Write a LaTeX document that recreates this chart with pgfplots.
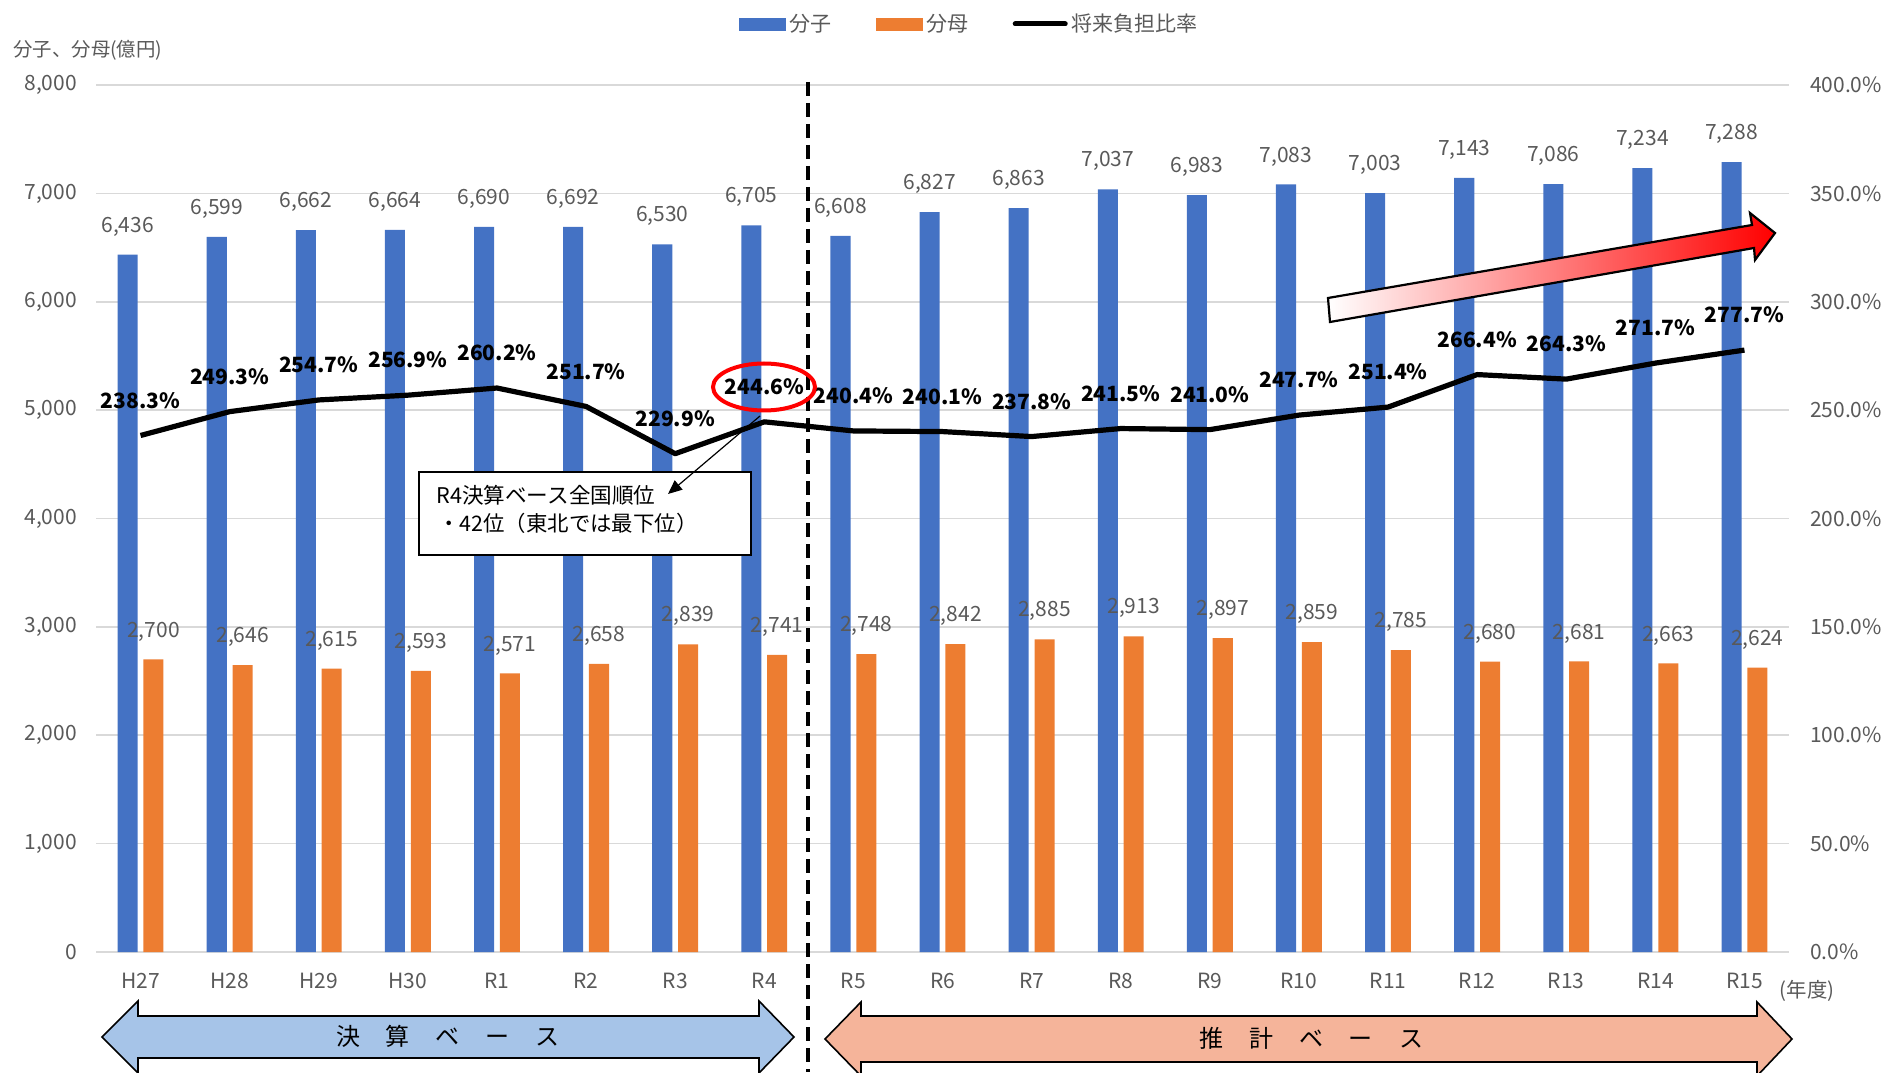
\documentclass[border=0pt]{standalone}
\usepackage{fontspec}
\setmainfont{Noto Sans CJK JP}
\usepackage{pgfplots}
\pgfplotsset{compat=1.18}
\usetikzlibrary{arrows.meta}
\definecolor{c1}{HTML}{4472C4}
\definecolor{c2}{HTML}{ED7D31}
\definecolor{gridc}{HTML}{D9D9D9}
\definecolor{txt}{HTML}{595959}
\definecolor{arrb}{HTML}{A6C4E8}
\definecolor{arro}{HTML}{F5B49A}
\newcommand\tf{\fontsize{10.5}{12}\selectfont}
\begin{document}
\begin{tikzpicture}
\path[use as bounding box] (-48pt,-60pt) rectangle (893.5pt,476pt);
\pgfplotsset{
  base/.style={scale only axis, width=846.5pt, height=433.5pt, xmin=-0.5, xmax=18.5,
    axis line style={draw=none}, major tick length=0pt,
    /pgf/number format/assume math mode=true,
    tick label style={font=\tf, text=txt}},
}
\begin{axis}[base, ymin=0, ymax=8000, ytick={0,1000,...,8000},
  ymajorgrids, grid style={gridc, line width=0.8pt},
  xtick={0,...,18},
  xticklabels={H27,H28,H29,H30,R1,R2,R3,R4,R5,R6,R7,R8,R9,R10,R11,R12,R13,R14,R15},
  yticklabel style={xshift=-6pt}, xticklabel style={yshift=-7pt},
  /pgf/number format/1000 sep={,},
  nodes near coords,
  nodes near coords style={font=\tf, text=txt, anchor=center, yshift=14pt}]
\addplot[ybar, bar width=0.225, bar shift=-0.145, fill=c1, draw=none,
  nodes near coords style={xshift=-6.46pt}] coordinates {
(0,6436) (1,6599) (2,6662) (3,6664) (4,6690) (5,6692) (6,6530) (7,6705) (8,6608) (9,6827)
(10,6863) (11,7037) (12,6983) (13,7083) (14,7003) (15,7143) (16,7086) (17,7234) (18,7288)};
\addplot[ybar, bar width=0.225, bar shift=0.145, fill=c2, draw=none,
  nodes near coords style={xshift=6.46pt}] coordinates {
(0,2700) (1,2646) (2,2615) (3,2593) (4,2571) (5,2658) (6,2839) (7,2741) (8,2748) (9,2842)
(10,2885) (11,2913) (12,2897) (13,2859) (14,2785) (15,2680) (16,2681) (17,2663) (18,2624)};
\end{axis}
\begin{axis}[base, ymin=0, ymax=400, ytick={0,50,...,400},
  axis x line=none, axis y line*=right,
  yticklabel={\pgfmathprintnumber[fixed,fixed zerofill,precision=1]{\tick}\%},
  yticklabel style={anchor=west, xshift=7pt},
  legend style={draw=none, fill=none, at={(0.5165,1.092)}, anchor=north, legend columns=3,
    font=\tf, text=txt, /tikz/every even column/.append style={column sep=20pt}, cells={anchor=west}}]
\addlegendimage{legend image code/.code={\fill[c1] (0pt,-3pt) rectangle (23pt,3pt);}}
\addlegendentry{分子}
\addlegendimage{legend image code/.code={\fill[c2] (0pt,-3pt) rectangle (23pt,3pt);}}
\addlegendentry{分母}
\addlegendimage{legend image code/.code={\draw[black, line width=2.5pt, line cap=round] (0pt,0pt) -- (25pt,0pt);}}
\addlegendentry{将来負担比率}
\addplot[black, line width=2.6pt, line join=round, forget plot,
  nodes near coords={\pgfmathprintnumber[fixed,fixed zerofill,precision=1]{\pgfplotspointmeta}\%},
  nodes near coords style={font=\bfseries\tf, text=black, anchor=center, yshift=17.5pt}] coordinates {
(0,238.3) (1,249.3) (2,254.7) (3,256.9) (4,260.2) (5,251.7) (6,229.9) (7,244.6) (8,240.4) (9,240.1)
(10,237.8) (11,241.5) (12,241.0) (13,247.7) (14,251.4) (15,266.4) (16,264.3) (17,271.7) (18,277.7)};
\end{axis}
\begin{scope}[x=0.5pt,y=-0.5pt,shift={(-48pt,476pt)}]
% axis titles
\node[anchor=west, inner sep=0, font=\fontsize{9.7}{11}\selectfont, text=txt] at (13,50) {分子、分母(億円)};
\node[inner sep=0, font=\fontsize{10.2}{11}\selectfont, text=txt] at (1807,991) {(年度)};
% dashed separator
\draw[black, line width=1.6pt, dash pattern=on 7pt off 3.5pt] (808,82) -- (808,1072);
% callout
\draw[black, line width=0.6pt, fill=white] (419,472) rectangle (751,555);
\node[anchor=west, inner sep=0, font=\fontsize{10.8}{12}\selectfont] at (436,495) {R4決算ベース全国順位};
\node[anchor=west, inner sep=0, font=\fontsize{10.7}{12}\selectfont] at (438,523) {・42位（東北では最下位）};
\draw[black, line width=0.6pt, -{Triangle[length=7pt,width=6pt]}] (760,416) -- (668,494);
\draw[red, line width=2pt] (764,387) ellipse [x radius=25.5pt, y radius=11.75pt];
% gradient arrow
\draw[black, line width=1.1pt, line join=miter, left color=white, right color=red]
  (1328,298) -- (1752,225) -- (1750,213) -- (1775,233) -- (1755,260) -- (1754,248) -- (1330,322) -- cycle;
% bottom arrows
\draw[black, line width=0.8pt, fill=arrb]
  (102,1037) -- (138,1001) -- (138,1016) -- (759,1016) -- (759,1001) -- (794,1037)
  -- (759,1073) -- (759,1058) -- (138,1058) -- (138,1073) -- cycle;
\draw[black, line width=0.8pt, fill=arro]
  (825,1039) -- (861,1002) -- (861,1016) -- (1757,1016) -- (1757,1002) -- (1792,1039)
  -- (1757,1076) -- (1757,1062) -- (861,1062) -- (861,1076) -- cycle;
\node[inner sep=0, font=\fontsize{12}{13}\selectfont] at (448,1036) {決\hspace{13pt}算\hspace{13pt}ベ\hspace{13pt}ー\hspace{13pt}ス};
\node[inner sep=0, font=\fontsize{12}{13}\selectfont] at (1311,1038) {推\hspace{13pt}計\hspace{13pt}ベ\hspace{13pt}ー\hspace{13pt}ス};
\end{scope}
\end{tikzpicture}
\end{document}
